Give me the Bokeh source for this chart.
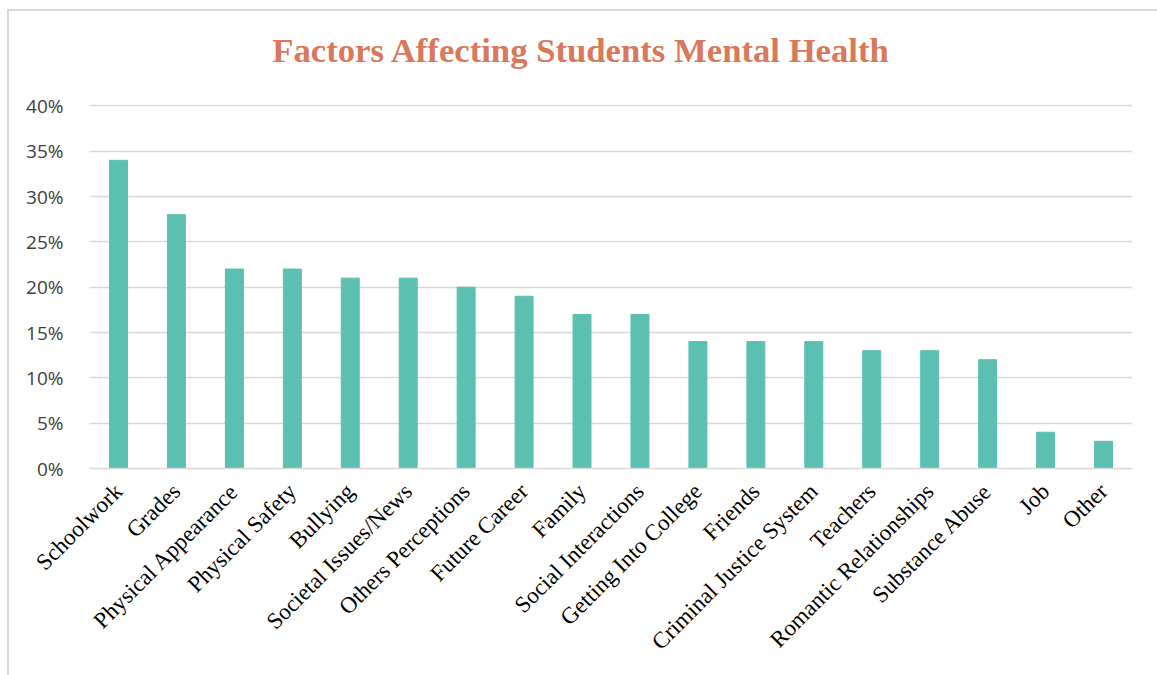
from math import pi
from bokeh.plotting import figure
from bokeh.models import NumeralTickFormatter, FixedTicker, Label
from bokeh.embed import file_html
from bokeh.resources import INLINE

title_text = "Factors Affecting Students Mental Health"
categories = ["Schoolwork", "Grades", "Physical Appearance", "Physical Safety", "Bullying",
              "Societal Issues/News", "Others Perceptions", "Future Career", "Family",
              "Social Interactions", "Getting Into College", "Friends", "Criminal Justice System",
              "Teachers", "Romantic Relationships", "Substance Abuse", "Job", "Other"]
values = [0.34, 0.28, 0.22, 0.22, 0.21, 0.21, 0.20, 0.19, 0.17, 0.17, 0.14, 0.14, 0.14,
          0.13, 0.13, 0.12, 0.04, 0.03]
y_ticks = [0, 0.05, 0.10, 0.15, 0.20, 0.25, 0.30, 0.35, 0.40]

# frame extends above 40% to leave room for the title inside the canvas
p = figure(x_range=categories, y_range=(0, 0.4942), width=1150, height=666,
           output_backend="svg", toolbar_location=None,
           min_border_left=80, min_border_right=27, min_border_top=9, min_border_bottom=209,
           margin=(9, 0, 0, 7))
p.styles = {"border-left": "2px solid #d9d9d9", "border-top": "2px solid #d9d9d9"}

p.vbar(x=categories, top=values, width=0.31, color="#5bbfb2", line_color="#5bbfb2")

p.add_layout(Label(x=492, y=0.4610, x_units="screen", y_units="data", text=title_text,
                   text_font="Liberation Serif", text_font_size="34.7px",
                   text_font_style="bold", text_color="#d9785a",
                   text_align="center", text_baseline="alphabetic"))

p.outline_line_color = None
p.xgrid.grid_line_color = None
p.ygrid.grid_line_color = "#d9d9d9"
p.ygrid.grid_line_width = 1.5
p.yaxis.ticker = FixedTicker(ticks=y_ticks)
p.yaxis.formatter = NumeralTickFormatter(format="0%")
p.yaxis.axis_line_color = None
p.yaxis.major_tick_line_color = None
p.yaxis.minor_tick_line_color = None
p.yaxis.major_label_text_font = "Open Sans"
p.yaxis.major_label_text_font_size = "19px"
p.yaxis.major_label_text_color = "#404040"
p.yaxis.major_label_standoff = 20

p.xaxis.axis_line_color = "#d9d9d9"
p.xaxis.axis_line_width = 1.5
p.xaxis.major_tick_line_color = None
p.xaxis.minor_tick_line_color = None
p.xaxis.major_label_orientation = pi / 4
p.xaxis.major_label_text_font = "Liberation Serif"
p.xaxis.major_label_text_font_size = "23px"
p.xaxis.major_label_text_color = "#000000"
p.xaxis.major_label_standoff = 13
p.x_range.range_padding = 0

open("out.html", "w").write(file_html(p, INLINE))
